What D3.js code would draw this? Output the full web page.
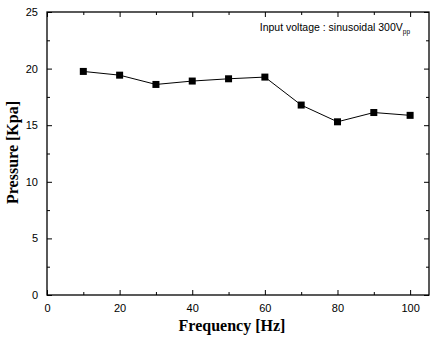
<!DOCTYPE html>
<html><head><meta charset="utf-8">
<script src="https://cdn.jsdelivr.net/npm/d3@7/dist/d3.min.js"></script>
<style>body{margin:0;background:#fff}svg{display:block}</style>
</head><body>
<script>
const frequency = [10, 20, 30, 40, 50, 60, 70, 80, 90, 100];
const pressure = [19.75, 19.42, 18.6, 18.9, 19.1, 19.25, 16.78, 15.3, 16.12, 15.87];
const xTicks = [0, 20, 40, 60, 80, 100];
const yTicks = [0, 5, 10, 15, 20, 25];

const W = 431, H = 340;
const m = {left: 47, top: 12, right: 2, bottom: 45};
const svg = d3.select("body").append("svg").attr("width", W).attr("height", H);
const x = d3.scaleLinear().domain([0, 105.2]).range([m.left, W - m.right]);
const y = d3.scaleLinear().domain([0, 25]).range([H - m.bottom, m.top]);

const axisFont = "Arial, 'Liberation Sans', sans-serif";
function style(g, labels) {
  g.select(".domain").remove();
  g.selectAll("line").attr("stroke", "#000").attr("stroke-width", 1);
  g.selectAll("text").attr("font-family", axisFont).attr("font-size", 11).attr("fill", "#000");
  if (!labels) g.selectAll("text").remove();
}
const xMinor = d3.range(10, 101, 20);
const yMinor = d3.range(2.5, 25, 5);

// bottom
svg.append("g").attr("transform", `translate(0,${y(0)})`)
  .call(d3.axisBottom(x).tickValues(xTicks).tickSize(-5).tickPadding(9)).call(g => style(g, true));
svg.append("g").attr("transform", `translate(0,${y(0)})`)
  .call(d3.axisBottom(x).tickValues(xMinor).tickSize(-3)).call(g => style(g, false));
// top
svg.append("g").attr("transform", `translate(0,${y(25)})`)
  .call(d3.axisTop(x).tickValues(xTicks).tickSize(-5)).call(g => style(g, false));
svg.append("g").attr("transform", `translate(0,${y(25)})`)
  .call(d3.axisTop(x).tickValues(xMinor).tickSize(-3)).call(g => style(g, false));
// left
svg.append("g").attr("transform", `translate(${x(0)},0)`)
  .call(d3.axisLeft(y).tickValues(yTicks).tickSize(-5).tickPadding(9)).call(g => style(g, true));
svg.append("g").attr("transform", `translate(${x(0)},0)`)
  .call(d3.axisLeft(y).tickValues(yMinor).tickSize(-3)).call(g => style(g, false));
// right
svg.append("g").attr("transform", `translate(${W - m.right},0)`)
  .call(d3.axisRight(y).tickValues(yTicks).tickSize(-5)).call(g => style(g, false));
svg.append("g").attr("transform", `translate(${W - m.right},0)`)
  .call(d3.axisRight(y).tickValues(yMinor).tickSize(-3)).call(g => style(g, false));

// frame
svg.append("rect").attr("x", x(0)).attr("y", y(25))
  .attr("width", x(105.2) - x(0)).attr("height", y(0) - y(25))
  .attr("fill", "none").attr("stroke", "#000").attr("stroke-width", 1.3);

// line
svg.append("path").datum(frequency.map((f, i) => [f, pressure[i]]))
  .attr("d", d3.line().x(d => x(d[0])).y(d => y(d[1])))
  .attr("fill", "none").attr("stroke", "#000").attr("stroke-width", 1);
svg.selectAll(".pt").data(frequency.map((f, i) => [f, pressure[i]])).enter()
  .append("rect").attr("x", d => x(d[0]) - 3.5).attr("y", d => y(d[1]) - 3.5)
  .attr("width", 7).attr("height", 7).attr("fill", "#000");

// annotation
const ann = svg.append("text").attr("x", 410).attr("y", 31).attr("text-anchor", "end")
  .attr("font-family", axisFont).attr("font-size", 10.5).attr("fill", "#000");
ann.append("tspan").text("Input voltage : sinusoidal 300V");
ann.append("tspan").attr("font-size", 6.5).attr("dy", 3).text("pp");

// axis titles
svg.append("text").attr("x", 232).attr("y", 331).attr("text-anchor", "middle")
  .attr("font-family", "'Liberation Serif', 'Times New Roman', serif").attr("font-weight", "bold")
  .attr("font-size", 16).text("Frequency [Hz]");
svg.append("text").attr("transform", `translate(18,152.5) rotate(-90)`).attr("text-anchor", "middle")
  .attr("font-family", "'Liberation Serif', 'Times New Roman', serif").attr("font-weight", "bold")
  .attr("font-size", 16).text("Pressure [Kpa]");
</script>
</body></html>
